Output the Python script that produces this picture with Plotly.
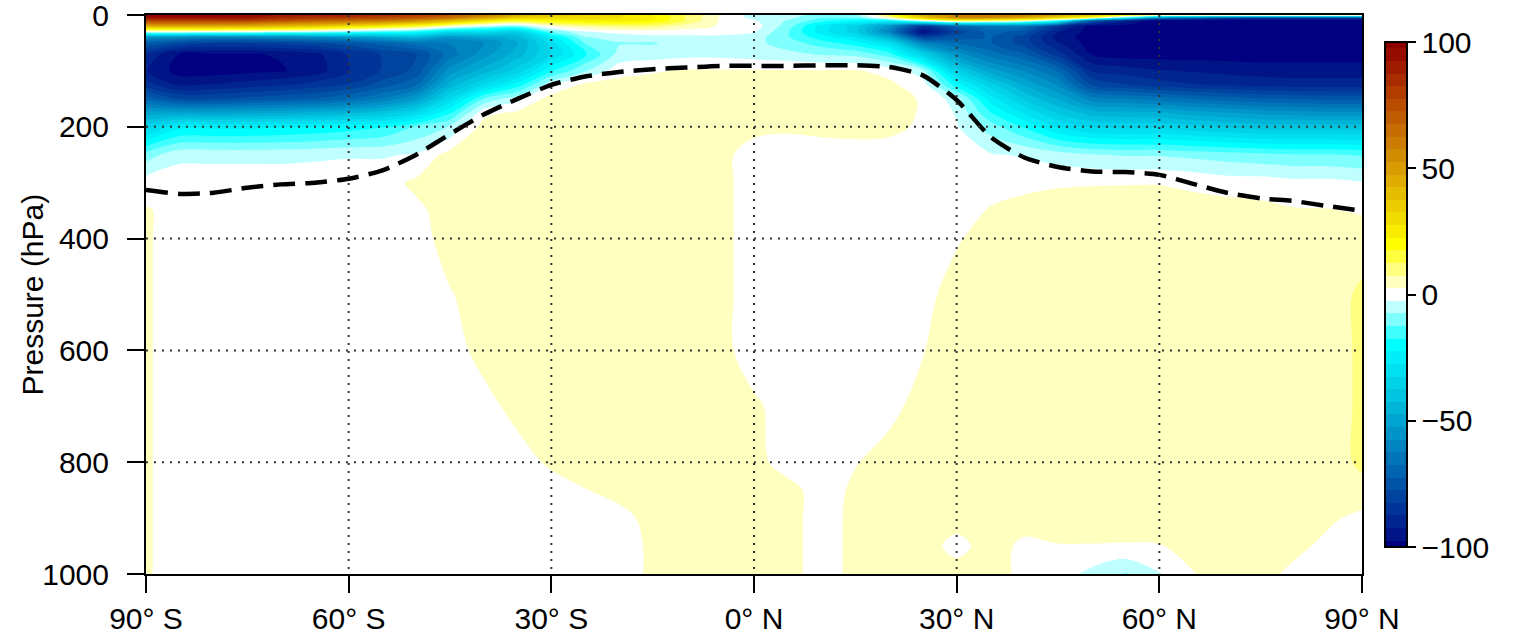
import plotly.graph_objects as go

# ---------------- data ----------------
lat = [-90, -85, -80, -75, -70, -65, -60, -55, -50, -45, -40, -35, -30, -25, -20, -15, -10, -5,
       0, 5, 10, 15, 20, 25, 30, 35, 40, 45, 50, 55, 60, 65, 70, 75, 80, 85, 90]
pressure = [0, 5, 10, 20, 30, 40, 50, 70, 100, 125, 150, 175, 200, 250, 300, 350, 400,
            500, 600, 700, 800, 850, 900, 950, 1000]

# each row: values for lat -90..90 (step 5)
z_p0 = [100, 100, 100, 97, 92, 90, 88, 85, 80, 72, 62, 48, 38, 32, 28, 22, 12, 3, -5,
        -5, -10, -10, 15, 45, 60, 62, 60, 50, 38, 22, 15, 15, 15, 15, 15, 15, 15]
z_p5 = [94, 94, 94, 92, 86, 82, 80, 77, 72, 62, 48, 34, 30, 30, 28, 24, 12, 2, -4,
        -6, -12, -12, 5, 35, 55, 55, 45, 30, 12, -20, -60, -70, -80, -85, -85, -85, -85]
z_p10 = [80, 80, 80, 78, 74, 70, 66, 62, 55, 42, 28, 18, 22, 25, 25, 22, 12, 2, -2,
         -8, -15, -20, -20, 0, 15, 12, 5, -15, -70, -90, -100, -100, -100, -100, -100, -100, -100]
z_p20 = [45, 45, 45, 44, 40, 36, 30, 24, 16, 4, -5, -10, 3, 8, 10, 10, 5, 2, 0,
         -10, -25, -35, -55, -85, -70, -65, -65, -85, -100, -100, -100, -100, -100, -100, -100, -100, -100]
z_p30 = [0, 0, -1, -2, -4, -6, -10, -14, -18, -30, -30, -35, -12, -3, -1, 0, 0, 0, -2,
         -12, -25, -35, -60, -97, -80, -70, -75, -92, -100, -100, -100, -100, -100, -100, -100, -100, -100]
z_p40 = [-55, -60, -62, -62, -60, -58, -55, -50, -45, -55, -50, -45, -25, -8, -5, -4, -4, -4, -5,
         -12, -20, -28, -45, -80, -75, -72, -80, -95, -100, -100, -100, -100, -100, -100, -100, -100, -100]
z_p50 = [-72, -78, -82, -82, -80, -78, -75, -70, -65, -62, -58, -48, -30, -12, -8, -8, -5, -5, -6,
         -10, -15, -20, -30, -60, -68, -72, -80, -92, -100, -100, -100, -100, -100, -100, -100, -100, -100]
z_p70 = [-88, -98, -98, -98, -97, -94, -87, -82, -78, -65, -55, -45, -32, -18, -6, -5, -4, -4, -5,
         -6, -8, -9, -15, -35, -55, -65, -72, -85, -98, -100, -100, -100, -100, -100, -100, -100, -100]
z_p100 = [-92, -100, -100, -99, -98, -95, -88, -82, -76, -55, -45, -35, -18, -8, 0.5, 2, 3, 3, 3,
          3, 3, 3, 1, -6, -35, -50, -58, -68, -88, -90, -92, -93, -94, -95, -95, -95, -95]
z_p125 = [-85, -93, -92, -90, -88, -85, -82, -75, -68, -45, -32, -20, -3, 4, 4.5, 4.5, 4.5, 4.5, 4.5,
          4.5, 4.5, 4.5, 3.5, 0, -20, -35, -48, -58, -78, -82, -85, -87, -88, -89, -90, -90, -90]
z_p150 = [-70, -78, -78, -76, -74, -72, -68, -62, -52, -32, -12, -4, 5, 4.5, 4.5, 4.5, 4.5, 4.5, 4.5,
          4.5, 4.5, 4.5, 4.5, 2, -5, -25, -38, -48, -60, -62, -65, -68, -70, -72, -73, -74, -74]
z_p175 = [-50, -50, -50, -49, -48, -46, -44, -40, -32, -18, 1, 3.5, 4.5, 4.5, 4.5, 4.5, 4.5, 4.5, 4.5,
          4.5, 4.5, 4.5, 4.5, 2, -3, -17, -28, -38, -45, -46, -47, -50, -52, -54, -55, -56, -56]
z_p200 = [-35, -24, -24, -24, -23, -22, -20, -18, -12, -7, 4.5, 4.5, 4.5, 4.5, 4.5, 4.5, 4.5, 4.5, 4.5,
          3.5, 4, 4.5, 4, 1.5, -2, -10, -18, -28, -33, -34, -34, -36, -38, -40, -40, -40, -40]
z_p250 = [-10, -4, -4, -4, -4, -3.5, -3, -3, -2, 4.5, 4.5, 4.5, 4.5, 4.5, 4.5, 4.5, 4.5, 4.5, -0.5,
          -0.5, 0, 0, 0, 0, 0, -2, -3, -5, -7, -8, -8, -9, -10, -11, -12, -12, -13]
z_p300 = [0, 0.5, 0.5, 0.5, 0.5, 0.5, 0.5, 0.5, 3.5, 4.5, 4.5, 4.5, 4.5, 4.5, 4.5, 4.5, 4.5, 4.5, -0.5,
          0, 0, 0, 0, 0, 0, 0, 1, 2, 2.2, 2.3, 2.3, 1.5, 0, 0, -1, -1, -2]
z_p350 = [3, 0.5, 0.5, 0.5, 0.5, 0.5, 0.5, 0.5, 1.5, 4.5, 4.5, 4.5, 4.5, 4.5, 4.5, 4.5, 4.5, 4.5, -0.5,
          0, 0, 0, 0, 0, 0, 3, 4.5, 4.5, 4.5, 4.5, 4.5, 4.5, 5, 4, 3, 2.8, 2]
z_p400 = [3, 0.5, 0.5, 0.5, 0.5, 0.5, 0.5, 0.5, 0.5, 4.5, 4.5, 4.5, 4.5, 4.5, 4.5, 4.5, 4.5, 4.5, -0.5,
          0, 0, 0, 0, 0, 2, 4.5, 4.5, 4.5, 4.5, 4.5, 4.5, 4.5, 4.5, 4.5, 4.5, 4.5, 5]
z_p500 = [3, 0.5, 0.5, 0.5, 0.5, 0.5, 0.5, 0.5, 0.5, 2.2, 4.5, 4.5, 4.5, 4.5, 4.5, 4.5, 4.5, 4.5, -0.5,
          0, 0, 0, 0, 1, 4.5, 4.5, 4.5, 4.5, 4.5, 4.5, 4.5, 4.5, 4.5, 4.5, 4.5, 5, 8.5]
z_p600 = [3, 0.5, 0.5, 0.5, 0.5, 0.5, 0.5, 0.5, 0.5, 0, 4.5, 4.5, 4.5, 4.5, 4.5, 4.5, 4.5, 4.5, -0.5,
          0, 0, 0, 0, 2.3, 4.5, 4.5, 4.5, 4.5, 4.5, 4.5, 4.5, 4.5, 4.5, 4.5, 4.5, 5, 8.5]
z_p700 = [3, 0.5, 0.5, 0.5, 0.5, 0.5, 0.5, 0.5, 0.5, 0.5, 0.5, 4.5, 4.5, 4.5, 4.5, 4.5, 4.5, 4.5, 3.5,
          0, 0, 0, 1, 4.5, 4.5, 4.5, 4.5, 4.5, 4.5, 4.5, 4.5, 4.5, 4.5, 4.5, 4.5, 5, 8.5]
z_p800 = [3, 0.5, 0.5, 0.5, 0.5, 0.5, 0.5, 0.5, 0.5, 0.5, 0.5, 0, 3.5, 4.5, 4.5, 4.5, 4.5, 4.5, 4.5,
          0, 0, 2.2, 4.5, 4.5, 4.5, 4.5, 4.5, 4.5, 4.5, 4.5, 4.5, 4.5, 4.5, 4.5, 4.5, 5, 8.5]
z_p850 = [3, 0.5, 0.5, 0.5, 0.5, 0.5, 0.5, 0.5, 0.5, 0.5, 0.5, 0.5, 0, 2.3, 4.5, 4.5, 4.5, 4.5, 4.5,
          4.5, 0, 3.5, 4.5, 4.5, 4.5, 4.5, 4.5, 4.5, 4.5, 4.5, 4.5, 4.5, 4.5, 4.5, 4.5, 5, 6]
z_p900 = [3, 0.5, 0.5, 0.5, 0.5, 0.5, 0.5, 0.5, 0.5, 0.5, 0.5, 0.5, 0.5, 0.5, 0.5, 4.5, 4.5, 4.5, 4.5,
          4.5, 0, 4, 4.5, 4.5, 4.5, 4.5, 4.5, 4.5, 4.5, 4.5, 4.5, 4.5, 4.5, 4.5, 4.5, 3.5, 1]
z_p950 = [3, 0.5, 0.5, 0.5, 0.5, 0.5, 0.5, 0.5, 0.5, 0.5, 0.5, 0.5, 0.5, 0.5, 0, 3.5, 4.5, 4.5, 4.5,
          4.5, 0, 4, 4.5, 4.5, 1, 4.5, 1.5, 2.3, 2.3, 2.2, 2.3, 4, 4.5, 4.5, 4, 1, 0]
z_p1000 = [3, 0.5, 0.5, 0.5, 0.5, 0.5, 0.5, 0.5, 0.5, 0.5, 0.5, 0.5, 0.5, 0.5, 0, 3.5, 4.5, 4.5, 4.5,
           4.5, 0, 4, 4.5, 4.5, 4.5, 5, 1, 0, -4, -8, -3, 2.3, 4.5, 4.5, 1, 1, 0]

z_rows = [z_p0, z_p5, z_p10, z_p20, z_p30, z_p40, z_p50, z_p70, z_p100, z_p125, z_p150,
          z_p175, z_p200, z_p250, z_p300, z_p350, z_p400, z_p500, z_p600, z_p700, z_p800,
          z_p850, z_p900, z_p950, z_p1000]

# tropopause (dashed line)
tp_lat = [-90, -85, -80, -75, -70, -65, -60, -55, -50, -45, -40, -35, -30, -25, -20, -15, -10, -5,
          0, 5, 10, 15, 20, 25, 30, 35, 40, 45, 50, 55, 60, 65, 70, 75, 80, 85, 90]
tp_p = [313, 320, 318, 309, 303, 300, 293, 278, 250, 213, 178, 150, 125, 110, 102, 97, 94, 91,
        91, 91, 90, 90, 93, 108, 152, 218, 255, 272, 280, 281, 286, 302, 318, 328, 333, 342, 350]

x_tickvals = [-90, -60, -30, 0, 30, 60, 90]
x_ticktext = ["90° S", "60° S", "30° S", "0° N", "30° N", "60° N", "90° N"]
y_tickvals = [0, 200, 400, 600, 800, 1000]
x_grid = [-60, -30, 0, 30, 60]
y_grid = [200, 400, 600, 800]
cbar_tickvals = [-100, -50, 0, 50, 100]

# band colours, centred on -100, -95, ..., 95, 100
band_colors = [
    "#000080", "#001488", "#002490", "#003498", "#0044A0", "#0054A8", "#0064B0", "#0074B8",
    "#0084C0", "#0094C8", "#00A4D0", "#00B4D8", "#00C4E0", "#00D2E8", "#00E0F0", "#00EEF8",
    "#00FFFF", "#40FFFF", "#80FFFF", "#C0FFFF",
    "#FFFFFF",
    "#FFFFC0", "#FFFF80", "#FFFF40", "#FFFF00", "#F8EC00", "#F0DC00", "#EACC00", "#E4BC00",
    "#DEAC00", "#D89C00", "#D28C00", "#CC7C00", "#C66C00", "#C05C00", "#BA4C00", "#B03C00",
    "#A82C00", "#A01C00", "#960C00", "#8C0000",
]

# ---------------- figure ----------------
W, H = 1513, 638
L, R, T, B = 146, 151, 15, 64
plot_w = W - L - R

colorscale = [[i / (len(band_colors) - 1), c] for i, c in enumerate(band_colors)]
FONT = "Liberation Sans, Arial, Helvetica, sans-serif"

fig = go.Figure()
fig.add_trace(go.Contour(
    x=lat, y=pressure, z=z_rows,
    colorscale=colorscale,
    contours=dict(start=-97.5, end=97.5, size=5, coloring="fill", showlines=False),
    line=dict(width=0, smoothing=1),
    hoverinfo="skip",
    colorbar=dict(
        thickness=22, thicknessmode="pixels",
        len=505, lenmode="pixels",
        x=(1385 - L) / plot_w, xanchor="left", xpad=0,
        y=0.5, yanchor="middle", ypad=0,
        outlinewidth=2, outlinecolor="black",
        tickvals=cbar_tickvals, ticks="outside", ticklen=8, tickwidth=2, tickcolor="black",
        tickfont=dict(size=30, family=FONT, color="black"),
    ),
))

fig.add_trace(go.Scatter(
    x=tp_lat, y=tp_p, mode="lines",
    line=dict(color="black", width=4.5, dash="22px,10px", shape="spline", smoothing=0.6),
    hoverinfo="skip", showlegend=False,
))

grid_line = dict(color="#333333", width=2, dash="2px,6px")
for gx in x_grid:
    fig.add_shape(type="line", xref="x", yref="y", x0=gx, x1=gx, y0=0, y1=1000,
                  line=grid_line, layer="above")
for gy in y_grid:
    fig.add_shape(type="line", xref="x", yref="y", x0=-90, x1=90, y0=gy, y1=gy,
                  line=grid_line, layer="above")

fig.add_annotation(text="Pressure (hPa)", xref="paper", yref="paper",
                   x=(32 - L) / plot_w, y=0.5, xanchor="center", yanchor="middle",
                   textangle=-90, showarrow=False,
                   font=dict(size=30, family=FONT, color="black"))

axis_common = dict(ticks="outside", ticklen=17, tickwidth=2, tickcolor="black",
                   showline=True, linewidth=2, linecolor="black", mirror=True,
                   showgrid=False, zeroline=False, ticklabeloverflow="allow",
                   tickfont=dict(size=30, family=FONT, color="black"))
fig.update_xaxes(range=[-90, 90], tickvals=x_tickvals, ticktext=x_ticktext,
                 ticklabelstandoff=0, **axis_common)
fig.update_yaxes(range=[1000, 0], tickvals=y_tickvals, ticklabelstandoff=12, **axis_common)

fig.update_layout(
    width=W, height=H,
    margin=dict(l=L, r=R, t=T, b=B, autoexpand=False),
    plot_bgcolor="white", paper_bgcolor="white",
    font=dict(family=FONT, size=30, color="black"),
    showlegend=False,
)

fig.write_html("out.html", config={"displayModeBar": False},
               post_script="document.body.style.margin='0';")
